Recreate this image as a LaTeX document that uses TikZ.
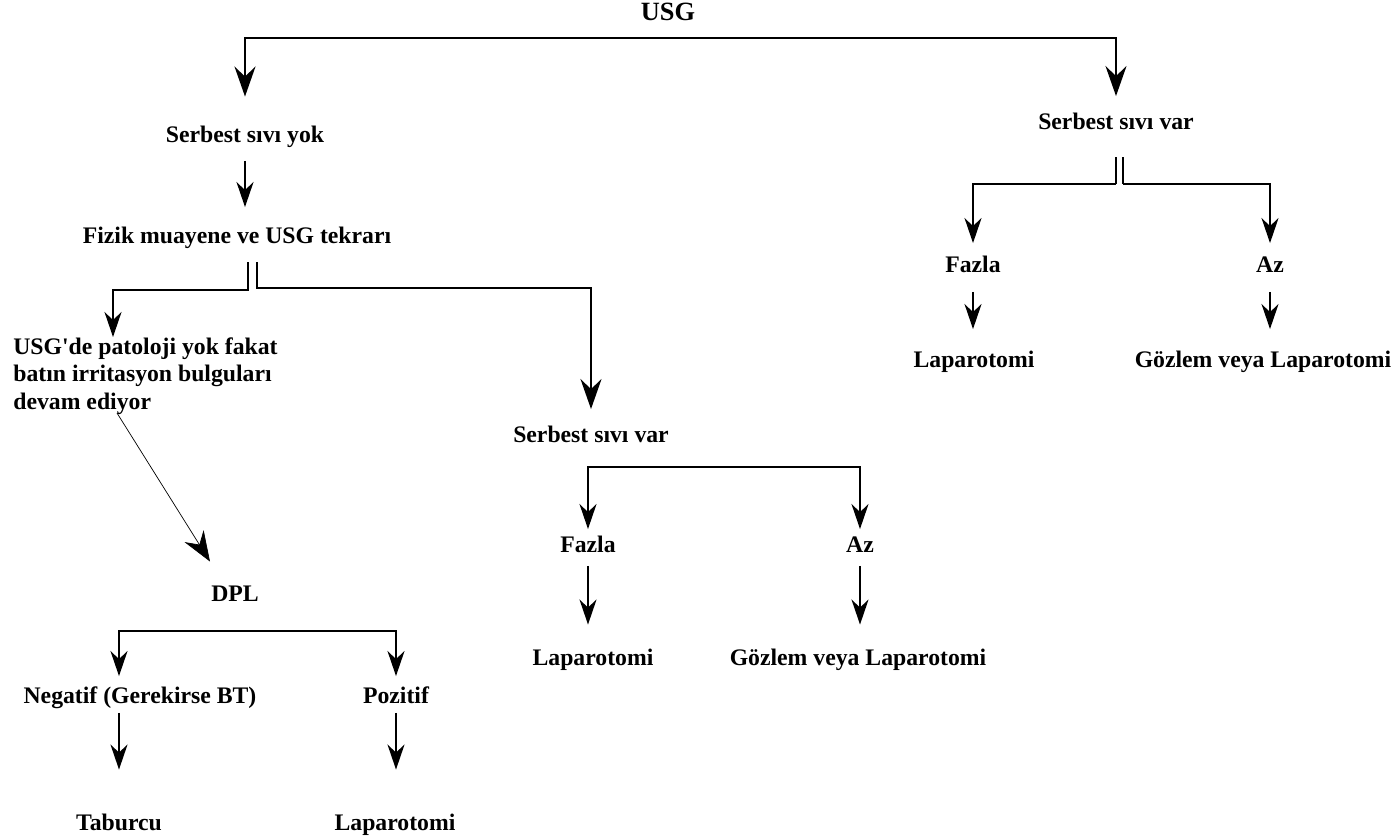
\documentclass[tikz,border=0pt]{standalone}
\usepackage{fontspec}
\setmainfont{Liberation Serif}
\usetikzlibrary{arrows.meta}

\begin{document}
\begin{tikzpicture}[
  every node/.style={font=\bfseries\fontsize{13.5}{15.5}\selectfont, inner sep=0pt, text height=9pt, text depth=2.5pt},
  arr/.style={-{Stealth[length=0.5cm, width=0.34cm, inset=0.16cm]}, line width=1.1pt},
  bigarr/.style={-{Stealth[length=0.6cm, width=0.42cm, inset=0.2cm]}, line width=1.1pt},
  bar/.style={line width=1.1pt},
  thin/.style={-{Stealth[length=0.6cm, width=0.45cm, inset=0.2cm]}, line width=0.4pt},
]
\useasboundingbox (0,0) rectangle (27.84,-16.74);
% texts
\node[font=\bfseries\fontsize{15}{17}\selectfont] (usg) at (13.36,-0.30) {USG};
\node (ssyok) at (4.90,-2.74) {Serbest sıvı yok};
\node (fizik) at (4.74,-4.76) {Fizik muayene ve USG tekrarı};
\node[anchor=west, align=left, text height=, text depth=] (usgde) at (0.26,-7.52) {USG\textquotesingle de patoloji yok fakat\\batın irritasyon bulguları\\devam ediyor};
\node (dpl) at (4.70,-11.92) {DPL};
\node (neg) at (2.80,-13.96) {Negatif (Gerekirse BT)};
\node (poz) at (7.92,-13.96) {Pozitif};
\node (tab) at (2.38,-16.50) {Taburcu};
\node (lap1) at (7.90,-16.50) {Laparotomi};
\node (ssvar1) at (11.82,-8.74) {Serbest sıvı var};
\node (fazla1) at (11.76,-10.94) {Fazla};
\node (az1) at (17.20,-10.94) {Az};
\node (lap2) at (11.86,-13.20) {Laparotomi};
\node (goz1) at (17.16,-13.20) {Gözlem veya Laparotomi};
\node (ssvar2) at (22.32,-2.48) {Serbest sıvı var};
\node (fazla2) at (19.46,-5.34) {Fazla};
\node (az2) at (25.40,-5.34) {Az};
\node (lap3) at (19.48,-7.24) {Laparotomi};
\node (goz2) at (25.26,-7.24) {Gözlem veya Laparotomi};
% junctions
\coordinate (usgbar) at (14.00,-0.76);
\coordinate (fzL) at (4.96,-5.24);
\coordinate (fzR) at (5.14,-5.24);
\coordinate (usgdeIn) at (2.26,-6.74);
\coordinate (usgdeOut) at (2.34,-8.26);
\coordinate (dplbar) at (5.10,-12.62);
\coordinate (midbar) at (14.00,-9.34);
\coordinate (rL) at (22.32,-3.14);
\coordinate (rR) at (22.46,-3.14);
% top
\draw[bigarr, shorten >=0.6cm] (usgbar) -| (ssyok.north);
\draw[bigarr, shorten >=0.35cm] (usgbar) -| (ssvar2.north);
% left branch
\draw[arr, shorten <=0.27cm, shorten >=0.41cm] (ssyok.south) -- (ssyok.south |- fizik.north);
\draw[bar, -{Stealth[length=0.5cm, width=0.34cm, inset=0.16cm]}] (fzL) -- ++(0,-0.56) -| (usgdeIn);
\draw[bigarr, shorten >=0.35cm] (fzR) -- ++(0,-0.52) -| (ssvar1.north);
\draw[thin] (usgdeOut) -- ([xshift=-0.5cm, yshift=0.48cm]dpl.north);
\draw[arr, shorten >=0.23cm] (dplbar) -| (tab.north |- neg.north);
\draw[arr, shorten >=0.23cm] (dplbar) -| (poz.north);
\draw[arr, shorten <=0.09cm, shorten >=0.9cm] (tab.north |- neg.south) -- (tab.north);
\draw[arr, shorten <=0.09cm, shorten >=0.9cm] (poz.south) -- (poz.south |- lap1.north);
% middle branch
\draw[arr, shorten >=0.15cm] (midbar) -| (fazla1.north);
\draw[arr, shorten >=0.15cm] (midbar) -| (az1.north);
\draw[arr, shorten <=0.17cm, shorten >=0.5cm] (fazla1.south) -- (fazla1.south |- lap2.north);
\draw[arr, shorten <=0.17cm, shorten >=0.5cm] (az1.south) -- (az1.south |- goz1.north);
% right branch
\draw[bar] (rL) -- ++(0,-0.54) coordinate (rLb);
\draw[arr, shorten >=0.27cm] (rLb) -| (fazla2.north);
\draw[bar] (rR) -- ++(0,-0.54) coordinate (rRb);
\draw[arr, shorten >=0.27cm] (rRb) -| (az2.north);
\draw[arr, shorten <=0.29cm, shorten >=0.45cm] (fazla2.south) -- (fazla2.south |- lap3.north);
\draw[arr, shorten <=0.29cm, shorten >=0.45cm] (az2.south) -- (az2.south |- goz2.north);
\end{tikzpicture}
\end{document}
